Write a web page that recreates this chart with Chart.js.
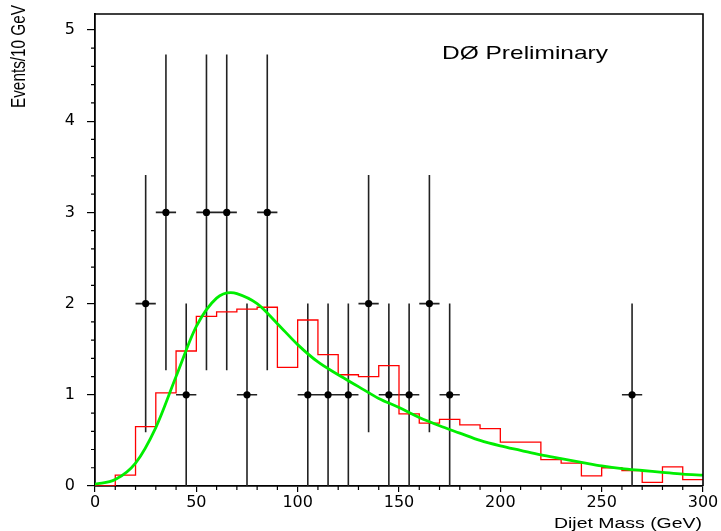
<!DOCTYPE html>
<html>
<head>
<meta charset="utf-8">
<script src="https://cdn.jsdelivr.net/npm/chart.js@4.4.1/dist/chart.umd.min.js"></script>
<style>
  body { margin: 0; background: #fff; }
  #wrap { width: 721px; height: 531px; }
</style>
</head>
<body>
<div id="wrap"><canvas id="myChart" width="721" height="531"></canvas></div>
<script>
// histogram bins (left edge, GeV) and expected events per bin
const binEdges = [0, 10, 20, 30, 40, 50, 60, 70, 80, 90, 100, 110, 120, 130, 140,
                  150, 160, 170, 180, 190, 200, 210, 220, 230, 240, 250, 260, 270, 280, 290, 300];
const histValues = [0, 0.12, 0.65, 1.02, 1.48, 1.86, 1.91, 1.94, 1.96, 1.30, 1.82, 1.44, 1.22, 1.20, 1.32,
                    0.79, 0.69, 0.73, 0.67, 0.63, 0.48, 0.48, 0.29, 0.25, 0.11, 0.20, 0.17, 0.04, 0.21, 0.07];

// data points (bin centres) with sqrt(N) errors
const pointX = [25, 35, 45, 55, 65, 75, 85, 105, 115, 125, 135, 145, 155, 165, 175, 265];
const pointY = [2, 3, 1, 3, 3, 1, 3, 1, 1, 1, 2, 1, 1, 2, 1, 1];
const pointErr = [1.41, 1.73, 1, 1.73, 1.73, 1, 1.73, 1, 1, 1, 1.41, 1, 1, 1.41, 1, 1];
const binHalfWidth = 5;

// fitted curve
const fitX = [0, 10, 20, 30, 40, 50, 60, 67, 70, 80, 90, 100, 110, 120, 130, 140, 150,
              160, 170, 180, 190, 200, 210, 220, 230, 240, 250, 260, 270, 280, 290, 300];
const fitY = [0.02, 0.07, 0.25, 0.64, 1.20, 1.75, 2.06, 2.12, 2.11, 2.00, 1.78, 1.55, 1.36, 1.22, 1.09, 0.96, 0.86,
              0.75, 0.66, 0.58, 0.50, 0.44, 0.39, 0.34, 0.30, 0.26, 0.22, 0.19, 0.17, 0.15, 0.13, 0.12];

const xTickValues = [0, 50, 100, 150, 200, 250, 300];
const xTickLabels = ['0', '50', '100', '150', '200', '250', '300'];
const yTickValues = [0, 1, 2, 3, 4, 5];
const yTickLabels = ['0', '1', '2', '3', '4', '5'];

// build datasets
const histData = binEdges.map((x, i) => ({ x: x, y: i < histValues.length ? histValues[i] : histValues[histValues.length - 1] }));

const errData = [];
pointX.forEach((x, i) => {
    errData.push({ x: x, y: pointY[i] - pointErr[i] });
    errData.push({ x: x, y: pointY[i] + pointErr[i] });
    errData.push({ x: x, y: null });
    errData.push({ x: x - binHalfWidth, y: pointY[i] });
    errData.push({ x: x + binHalfWidth, y: pointY[i] });
    errData.push({ x: x, y: null });
});

const fitData = fitX.map((x, i) => ({ x: x, y: fitY[i] }));
const pointData = pointX.map((x, i) => ({ x: x, y: pointY[i] }));

// frame, minor ticks and the texts
const decorations = {
    id: 'decorations',
    afterDraw(chart) {
        const ctx = chart.ctx;
        const a = chart.chartArea;
        const xs = chart.scales.x;
        const ys = chart.scales.y;
        ctx.save();
        ctx.strokeStyle = '#000';
        ctx.lineWidth = 1.6;
        ctx.beginPath();
        ctx.moveTo(a.left, a.top);
        ctx.lineTo(a.right, a.top);
        ctx.lineTo(a.right, a.bottom);
        ctx.stroke();

        // minor ticks
        ctx.lineWidth = 1.2;
        ctx.beginPath();
        for (let k = 1; k <= 26; k++) {
            if (k % 5 === 0) continue;
            const py = ys.getPixelForValue(k / 5);
            if (py < a.top - 0.5) continue;
            ctx.moveTo(a.left - 4, py);
            ctx.lineTo(a.left, py);
        }
        for (let k = 1; k < 30; k++) {
            if (k % 5 === 0) continue;
            const px = xs.getPixelForValue(k * 10);
            ctx.moveTo(px, a.bottom);
            ctx.lineTo(px, a.bottom + 4);
        }
        ctx.stroke();

        ctx.fillStyle = '#000';
        ctx.textBaseline = 'alphabetic';
        ctx.textAlign = 'left';

        // DØ Preliminary
        ctx.font = '19px "Liberation Sans", Arial, sans-serif';
        let t = 'DØ Preliminary';
        let w = ctx.measureText(t).width;
        ctx.save();
        ctx.translate(442, 59);
        ctx.scale(166 / w, 1);
        ctx.fillText(t, 0, 0);
        ctx.restore();

        // x title
        ctx.font = '14px "Liberation Sans", Arial, sans-serif';
        t = 'Dijet Mass (GeV)';
        w = ctx.measureText(t).width;
        ctx.save();
        ctx.translate(554, 528);
        ctx.scale(148 / w, 1);
        ctx.fillText(t, 0, 0);
        ctx.restore();

        // y title
        ctx.font = '15px "Liberation Sans", Arial, sans-serif';
        t = 'Events/10 GeV';
        w = ctx.measureText(t).width;
        ctx.save();
        ctx.translate(25, 108);
        ctx.rotate(-Math.PI / 2);
        ctx.scale(103 / w, 1.3);
        ctx.fillText(t, 0, 0);
        ctx.restore();

        ctx.restore();
    }
};

const ctx = document.getElementById('myChart');

new Chart(ctx, {
    type: 'line',
    data: {
        datasets: [
            {
                label: 'errors',
                data: errData,
                borderColor: '#222',
                borderWidth: 1.6,
                pointRadius: 0,
                spanGaps: false,
                order: 4
            },
            {
                label: 'histogram',
                data: histData,
                stepped: true,
                borderColor: '#ff0000',
                borderWidth: 1.3,
                pointRadius: 0,
                order: 3
            },
            {
                label: 'fit',
                data: fitData,
                borderColor: '#00ee00',
                borderWidth: 2.8,
                pointRadius: 0,
                cubicInterpolationMode: 'monotone',
                order: 2
            },
            {
                label: 'data',
                data: pointData,
                showLine: false,
                pointRadius: 3.6,
                pointBackgroundColor: '#000',
                pointBorderWidth: 0,
                order: 1
            }
        ]
    },
    options: {
        responsive: false,
        animation: false,
        layout: { padding: { top: 14, right: 18, left: 0, bottom: 0 } },
        plugins: { legend: { display: false }, tooltip: { enabled: false } },
        scales: {
            x: {
                type: 'linear',
                min: 0,
                max: 300,
                afterBuildTicks: (scale) => { scale.ticks = xTickValues.map((v) => ({ value: v })); },
                afterFit: (scale) => { scale.height = 45; scale.paddingLeft = 0; scale.paddingRight = 0; },
                border: { color: '#000', width: 1.8 },
                grid: { drawOnChartArea: false, drawTicks: true, tickLength: 6, color: '#000', lineWidth: 1.2 },
                ticks: {
                    autoSkip: false,
                    maxRotation: 0,
                    padding: 1,
                    color: '#000',
                    font: { family: '"DejaVu Sans", sans-serif', size: 16 },
                    callback: (v) => xTickLabels[xTickValues.indexOf(v)]
                }
            },
            y: {
                min: 0,
                max: 5.175,
                afterBuildTicks: (scale) => { scale.ticks = yTickValues.map((v) => ({ value: v })); },
                afterFit: (scale) => { scale.width = 95; scale.paddingTop = 0; scale.paddingBottom = 0; },
                border: { color: '#000', width: 1.8 },
                grid: { drawOnChartArea: false, drawTicks: true, tickLength: 8, color: '#000', lineWidth: 1.2 },
                ticks: {
                    padding: 12,
                    color: '#000',
                    font: { family: '"DejaVu Sans", sans-serif', size: 16 },
                    callback: (v) => yTickLabels[yTickValues.indexOf(v)]
                }
            }
        }
    },
    plugins: [decorations]
});
</script>
</body>
</html>
